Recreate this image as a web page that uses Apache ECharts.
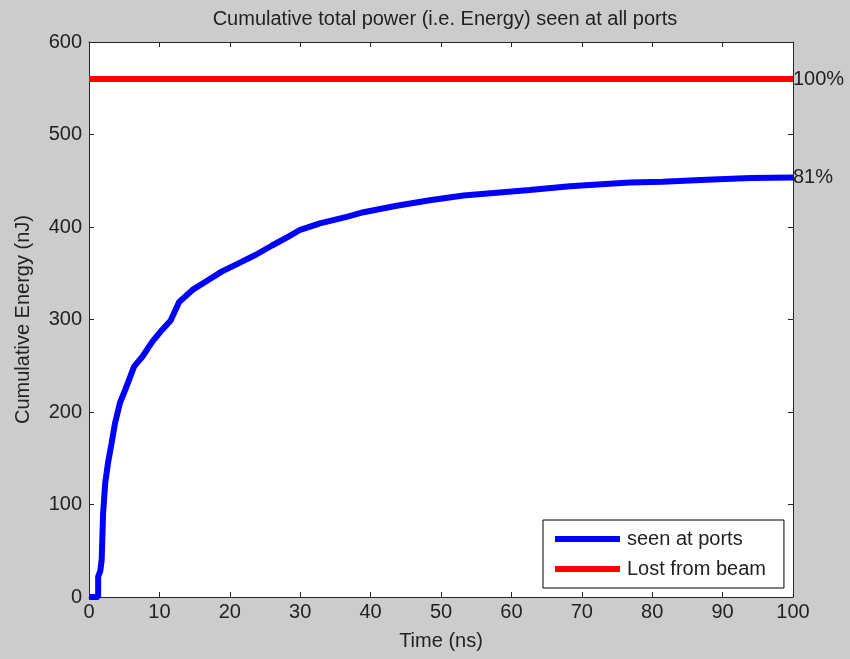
<!DOCTYPE html>
<html>
<head>
<meta charset="utf-8">
<script src="https://cdn.jsdelivr.net/npm/echarts@6/dist/echarts.min.js"></script>
<style>
  html, body { margin: 0; padding: 0; background: #cccccc; }
  #chart { width: 850px; height: 659px; }
</style>
</head>
<body>
<div id="chart"></div>
<script>
// (time in ns, energy in nJ)
var seenTime = [0, 1.3, 1.3, 1.6, 1.8, 2.0, 2.3, 2.7, 3.2, 3.7, 4.4, 5.2, 6.4, 7.6, 9.0, 10.4, 11.6, 12.8, 14.7, 16.6, 18.9, 21.3, 23.7, 26.0, 28.2, 30.0, 32.8, 36.6, 39.0, 43.7, 48.4, 53.2, 57.9, 62.6, 68.3, 76.8, 81.5, 87.7, 94.0, 100];
var seenEnergy = [0, 0, 22, 28, 40, 90, 123, 145, 166, 188, 210, 225, 249, 260, 276, 289, 299, 319, 332, 341, 352, 361, 370, 380, 389, 397, 404, 411, 416, 423, 429, 434, 437, 440, 444, 448, 449, 451, 453, 453.5];
var lostTime = [0, 100];
var lostEnergy = [560, 560];
var xTicks = [0, 10, 20, 30, 40, 50, 60, 70, 80, 90, 100];
var yTicks = [0, 100, 200, 300, 400, 500, 600];

var seenData = seenTime.map(function (t, i) { return [t, seenEnergy[i]] });
var lostData = lostTime.map(function (t, i) { return [t, lostEnergy[i]] });

var font = "'Liberation Sans', Arial, sans-serif";
var ink = '#222222';
var axisCol = '#262626';

var myChart = echarts.init(document.getElementById('chart'));

function xAx(pos, labels) {
  return {
    type: 'value', position: pos,
    min: xTicks[0], max: xTicks[xTicks.length - 1], interval: 10,
    name: labels ? 'Time (ns)' : '', nameLocation: 'middle', nameGap: 34,
    nameTextStyle: { fontFamily: font, fontSize: 20, color: ink },
    axisLine: { show: true, onZero: false, lineStyle: { color: axisCol, width: 1 } },
    axisTick: { show: true, inside: true, length: 5, lineStyle: { color: axisCol } },
    axisLabel: { show: labels, margin: 5, fontFamily: font, fontSize: 20, color: ink },
    splitLine: { show: false }
  }
}
function yAx(pos, labels) {
  return {
    type: 'value', position: pos,
    min: yTicks[0], max: yTicks[yTicks.length - 1], interval: 100,
    name: labels ? 'Cumulative Energy (nJ)' : '', nameLocation: 'middle', nameGap: 56,
    nameTextStyle: { fontFamily: font, fontSize: 20, color: ink },
    axisLine: { show: true, onZero: false, lineStyle: { color: axisCol, width: 1 } },
    axisTick: { show: true, inside: true, length: 5, lineStyle: { color: axisCol } },
    axisLabel: { show: labels, margin: 7, fontFamily: font, fontSize: 20, color: ink },
    splitLine: { show: false }
  }
}

var option = {
  backgroundColor: '#cccccc',
  animation: false,
  title: {
    text: 'Cumulative total power (i.e. Energy) seen at all ports',
    left: 440, top: 4, textAlign: 'center',
    textStyle: { fontFamily: font, fontSize: 20, fontWeight: 'normal', color: ink }
  },
  grid: { left: 89, top: 42, right: 57, bottom: 62, show: true, backgroundColor: '#ffffff', borderWidth: 0 },
  legend: {
    orient: 'vertical',
    left: 543, top: 520,
    backgroundColor: '#ffffff', borderColor: '#000000', borderWidth: 1,
    padding: [9, 18, 9, 12],
    itemWidth: 65, itemHeight: 6, itemGap: 10,
    icon: 'rect',
    textStyle: { fontFamily: font, fontSize: 20, color: ink, padding: [0, 0, 0, 2] },
    data: ['seen at ports', 'Lost from beam']
  },
  xAxis: [xAx('bottom', true), xAx('top', false)],
  yAxis: [yAx('left', true), yAx('right', false)],
  series: [
    {
      name: 'seen at ports', type: 'line', data: seenData,
      showSymbol: false, color: '#0000ff',
      lineStyle: { width: 6, color: '#0000ff' },
      endLabel: { show: true, formatter: '81%', distance: 0, fontFamily: font, fontSize: 20, color: ink }
    },
    {
      name: 'Lost from beam', type: 'line', data: lostData,
      showSymbol: false, color: '#ff0000',
      lineStyle: { width: 6, color: '#ff0000' },
      endLabel: { show: true, formatter: '100%', distance: 0, fontFamily: font, fontSize: 20, color: ink }
    }
  ]
};
myChart.setOption(option);
</script>
</body>
</html>
